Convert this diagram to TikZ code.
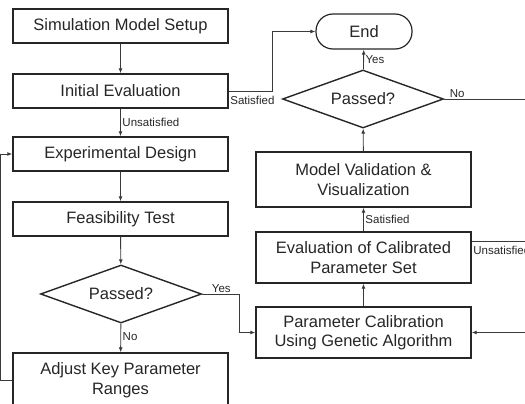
\documentclass[tikz,border=0pt]{standalone}
\usepackage{fontspec}
\setmainfont{Liberation Sans}
\usetikzlibrary{arrows.meta,positioning,calc,shapes.geometric}
\definecolor{FlowInk}{HTML}{262626}
\definecolor{FlowLine}{HTML}{3A3A3A}

\begin{document}
\begin{tikzpicture}[x=1pt,y=-1pt,
  stage/.style={draw=FlowInk,line width=1.4pt,minimum width=215pt,minimum height=34pt,inner sep=2pt,align=center,text=FlowInk,font=\fontsize{16.5}{19.5}\selectfont},
  check/.style={diamond,draw=FlowInk,line width=1.4pt,minimum width=161pt,minimum height=58pt,aspect=2.78,inner sep=0pt,text=FlowInk,font=\fontsize{16.5}{19.5}\selectfont},
  term/.style={draw=FlowInk,line width=1.2pt,rounded corners=17pt,minimum width=96pt,minimum height=35pt,text=FlowInk,font=\fontsize{16.5}{19.5}\selectfont},
  flow/.style={draw=FlowLine,line width=0.9pt,-{Latex[length=5pt,width=4pt]}},
  link/.style={draw=FlowLine,line width=0.9pt},
  tag/.style={font=\fontsize{11.5}{13}\selectfont,text=FlowInk,inner sep=1.5pt}]
  \useasboundingbox (0,0) rectangle (525,404);
  \coordinate (lft) at (0.2,0);
  \coordinate (rgt) at (525,0);

  \node[stage] (setup) at (120.5,26) {Simulation Model Setup};
  \node[stage] (init) at (120.5,91) {Initial Evaluation};
  \node[stage] (design) at (120.5,154) {Experimental Design};
  \node[stage] (feas) at (120.5,219) {Feasibility Test};
  \node[check] (passA) at (121,294) {Passed?};
  \node[stage,minimum height=54pt] (adjust) at (120.5,380) {Adjust Key Parameter\\Ranges};

  \node[term] (endn) at (364,31.5) {End};
  \node[check] (passB) at (363,99) {Passed?};
  \node[stage,minimum height=55pt] (valid) at (363.5,179.5) {Model Validation \&\\Visualization};
  \node[stage,minimum height=51pt] (evalc) at (363.5,257.5) {Evaluation of Calibrated\\Parameter Set};
  \node[stage,minimum height=51pt] (calib) at (363.5,332.5) {Parameter Calibration\\Using Genetic Algorithm};

  \draw[flow] (setup) -- (init);
  \draw[flow] (init) -- node[tag,right]{Unsatisfied} (design);
  \draw[flow] (init.east) -- ++(44,0) |- (endn.west);
  \node[tag,anchor=north west] (satA) at ([yshift=-3pt]init.east) {Satisfied};
  \draw[flow] (design) -- (feas);
  \draw[flow] (feas) -- (passA);
  \draw[flow] (passA) -- node[tag,right,pos=0.45]{No} (adjust);
  \draw[flow] (passA.east) -- ++(37,0) |- (calib.west);
  \node[tag,anchor=south west] (yesA) at ([xshift=8pt]passA.east) {Yes};
  \draw[flow] (adjust.west) -- (adjust.west -| lft) |- (design.west);

  \draw[flow] (calib) -- (evalc);
  \draw[flow] (evalc) -- node[tag,right]{Satisfied} (valid);
  \draw[flow] (valid) -- (passB);
  \draw[flow] (passB) -- node[tag,right]{Yes} (endn);
  \draw[link] (passB.east) -- (passB.east -| rgt);
  \node[tag,anchor=south west] (noB) at ([xshift=4pt]passB.east) {No};
  \draw[link] ([yshift=16pt]evalc.east) -- ([yshift=16pt]evalc.east -| rgt);
  \node[tag,anchor=north west] (unsB) at ([yshift=13pt]evalc.east) {Unsatisfied};
  \draw[flow] (calib.east -| rgt) -- (calib.east);
\end{tikzpicture}
\end{document}
